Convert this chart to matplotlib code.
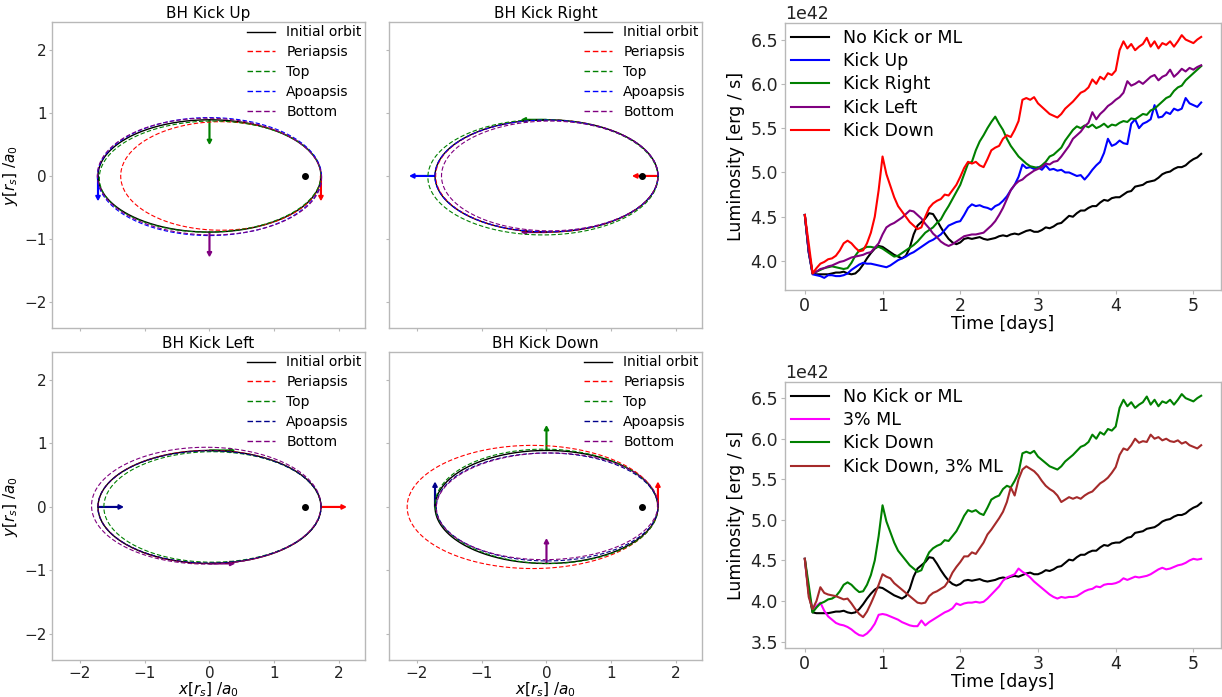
import numpy as np
import matplotlib
matplotlib.use("Agg")
import matplotlib.pyplot as plt

# ---------------- data ----------------
time_days = [round(0.05 * i, 2) for i in range(103)]  # 0.00 .. 5.10

lum_no_kick = [
 4.52, 4.10, 3.86, 3.85, 3.85, 3.85, 3.85, 3.86, 3.87, 3.87,
 3.88, 3.86, 3.85, 3.86, 3.90, 3.96, 4.03, 4.09, 4.14, 4.17,
 4.16, 4.13, 4.10, 4.07, 4.05, 4.03, 4.06, 4.15, 4.30, 4.40,
 4.44, 4.48, 4.54, 4.53, 4.46, 4.38, 4.31, 4.25, 4.21, 4.19,
 4.21, 4.25, 4.26, 4.25, 4.26, 4.27, 4.25, 4.24, 4.25, 4.26,
 4.28, 4.29, 4.28, 4.30, 4.31, 4.30, 4.32, 4.34, 4.35, 4.33,
 4.33, 4.35, 4.38, 4.37, 4.39, 4.42, 4.43, 4.47, 4.51, 4.50,
 4.54, 4.57, 4.57, 4.60, 4.62, 4.62, 4.66, 4.69, 4.68, 4.71,
 4.72, 4.72, 4.75, 4.78, 4.79, 4.84, 4.85, 4.86, 4.89, 4.90,
 4.91, 4.94, 4.98, 5.00, 5.01, 5.04, 5.06, 5.06, 5.08, 5.12,
 5.15, 5.17, 5.21]

lum_kick_up = [
 4.52, 4.10, 3.85, 3.84, 3.83, 3.81, 3.84, 3.84, 3.83, 3.83,
 3.84, 3.86, 3.90, 3.93, 3.96, 3.98, 3.97, 3.97, 3.96, 3.95,
 3.94, 3.93, 3.95, 3.98, 4.01, 4.03, 4.05, 4.08, 4.10, 4.13,
 4.16, 4.19, 4.22, 4.24, 4.27, 4.30, 4.35, 4.40, 4.42, 4.44,
 4.45, 4.52, 4.60, 4.64, 4.62, 4.63, 4.61, 4.60, 4.58, 4.62,
 4.64, 4.68, 4.73, 4.80, 4.86, 4.95, 5.09, 5.05, 5.06, 5.04,
 5.06, 5.03, 5.08, 5.03, 5.04, 5.02, 5.03, 5.00, 5.00, 4.98,
 4.96, 4.97, 4.92, 4.97, 5.03, 5.08, 5.12, 5.22, 5.38, 5.30,
 5.32, 5.36, 5.33, 5.32, 5.55, 5.60, 5.50, 5.55, 5.57, 5.60,
 5.76, 5.62, 5.63, 5.68, 5.66, 5.72, 5.70, 5.72, 5.84, 5.78,
 5.76, 5.74, 5.79]

lum_kick_right = [
 4.52, 4.12, 3.86, 3.88, 3.90, 3.92, 3.93, 3.94, 3.93, 3.92,
 3.91, 3.92, 3.98, 4.06, 4.12, 4.14, 4.16, 4.16, 4.15, 4.16,
 4.14, 4.11, 4.08, 4.05, 4.06, 4.09, 4.12, 4.15, 4.18, 4.22,
 4.27, 4.32, 4.35, 4.38, 4.43, 4.47, 4.55, 4.62, 4.70, 4.78,
 4.86, 4.98, 5.10, 5.12, 5.25, 5.35, 5.42, 5.50, 5.57, 5.63,
 5.55, 5.48, 5.38, 5.30, 5.24, 5.18, 5.14, 5.10, 5.07, 5.06,
 5.05, 5.08, 5.12, 5.18, 5.20, 5.24, 5.28, 5.36, 5.42, 5.48,
 5.52, 5.50, 5.53, 5.51, 5.54, 5.50, 5.52, 5.55, 5.51, 5.54,
 5.53, 5.56, 5.58, 5.57, 5.61, 5.60, 5.63, 5.66, 5.65, 5.70,
 5.72, 5.76, 5.80, 5.84, 5.86, 5.92, 5.96, 5.98, 6.04, 6.08,
 6.12, 6.16, 6.20]

lum_kick_left = [
 4.52, 4.12, 3.86, 3.88, 3.91, 3.92, 3.94, 3.95, 3.97, 3.99,
 4.00, 4.02, 4.04, 4.05, 4.06, 4.07, 4.09, 4.10, 4.15, 4.20,
 4.30, 4.38, 4.41, 4.43, 4.46, 4.49, 4.53, 4.57, 4.56, 4.52,
 4.48, 4.42, 4.37, 4.31, 4.27, 4.22, 4.19, 4.17, 4.19, 4.22,
 4.25, 4.28, 4.29, 4.30, 4.30, 4.31, 4.32, 4.36, 4.40, 4.45,
 4.52, 4.60, 4.70, 4.80, 4.86, 4.90, 4.92, 4.96, 4.99, 5.02,
 5.04, 5.06, 5.10, 5.09, 5.12, 5.13, 5.18, 5.24, 5.30, 5.38,
 5.42, 5.46, 5.52, 5.56, 5.68, 5.60, 5.66, 5.70, 5.75, 5.78,
 5.82, 5.85, 5.90, 6.03, 5.98, 6.00, 6.03, 6.00, 6.04, 6.08,
 6.10, 6.04, 6.08, 6.10, 6.16, 6.08, 6.12, 6.17, 6.14, 6.18,
 6.16, 6.19, 6.21]

lum_kick_down = [
 4.52, 4.20, 3.86, 3.92, 3.97, 3.99, 4.02, 4.03, 4.06, 4.12,
 4.20, 4.23, 4.20, 4.15, 4.11, 4.12, 4.20, 4.32, 4.50, 4.80,
 5.18, 4.98, 4.85, 4.72, 4.62, 4.56, 4.50, 4.44, 4.40, 4.36,
 4.38, 4.50, 4.60, 4.65, 4.68, 4.70, 4.75, 4.74, 4.80, 4.86,
 4.95, 5.05, 5.12, 5.10, 5.12, 5.08, 5.06, 5.15, 5.25, 5.28,
 5.30, 5.38, 5.42, 5.40, 5.48, 5.58, 5.82, 5.84, 5.82, 5.85,
 5.78, 5.74, 5.70, 5.66, 5.64, 5.62, 5.66, 5.72, 5.76, 5.80,
 5.85, 5.90, 5.92, 5.96, 6.05, 6.00, 6.08, 6.05, 6.12, 6.10,
 6.15, 6.38, 6.48, 6.40, 6.45, 6.38, 6.42, 6.45, 6.52, 6.42,
 6.48, 6.40, 6.46, 6.44, 6.48, 6.42, 6.48, 6.55, 6.50, 6.48,
 6.46, 6.50, 6.53]

lum_ml3 = [
 4.52, 4.10, 3.90, 3.94, 3.98, 3.88, 3.81, 3.77, 3.73, 3.71,
 3.70, 3.68, 3.65, 3.61, 3.58, 3.57, 3.60, 3.65, 3.72, 3.83,
 3.84, 3.83, 3.81, 3.79, 3.77, 3.74, 3.72, 3.70, 3.69, 3.69,
 3.76, 3.70, 3.74, 3.77, 3.80, 3.83, 3.86, 3.88, 3.91, 3.97,
 3.95, 3.97, 3.98, 3.98, 3.99, 3.98, 3.99, 4.03, 4.08, 4.13,
 4.18, 4.25, 4.29, 4.31, 4.33, 4.40, 4.36, 4.33, 4.29, 4.24,
 4.20, 4.16, 4.12, 4.08, 4.05, 4.03, 4.05, 4.04, 4.05, 4.05,
 4.06, 4.09, 4.12, 4.14, 4.15, 4.18, 4.17, 4.20, 4.21, 4.21,
 4.22, 4.24, 4.28, 4.26, 4.28, 4.30, 4.29, 4.30, 4.31, 4.33,
 4.36, 4.39, 4.41, 4.39, 4.40, 4.42, 4.44, 4.45, 4.47, 4.50,
 4.52, 4.51, 4.52]

lum_kick_down_ml3 = [
 4.52, 4.05, 3.90, 4.00, 4.17, 4.10, 4.08, 4.07, 4.06, 4.04,
 4.02, 4.03, 3.97, 3.90, 3.84, 3.80, 3.87, 3.97, 4.08, 4.20,
 4.33, 4.30, 4.28, 4.22, 4.18, 4.14, 4.10, 4.06, 4.02, 3.98,
 3.97, 3.98, 4.06, 4.10, 4.12, 4.15, 4.18, 4.25, 4.35, 4.42,
 4.48, 4.55, 4.55, 4.60, 4.58, 4.65, 4.72, 4.82, 4.88, 4.95,
 5.02, 5.10, 5.22, 5.40, 5.30, 5.50, 5.62, 5.66, 5.63, 5.60,
 5.55, 5.48, 5.42, 5.38, 5.35, 5.30, 5.22, 5.25, 5.28, 5.26,
 5.28, 5.26, 5.30, 5.33, 5.35, 5.40, 5.45, 5.48, 5.52, 5.58,
 5.65, 5.80, 5.88, 5.86, 5.92, 6.00, 5.95, 5.97, 5.96, 6.05,
 6.00, 6.02, 5.98, 6.00, 5.97, 5.96, 5.98, 5.94, 5.96, 5.92,
 5.90, 5.88, 5.92]

lum_scale = 1e42

# orbit data (in units of a0): initial ellipse and BH position
init_orbit = (0.0, 0.0, 1.72, 0.89, 0.0)   # xc, yc, a, b, tilt(deg)
bh_pos = (1.476, 0.0)

panel_titles = ["BH Kick Up", "BH Kick Right", "BH Kick Left", "BH Kick Down"]
kick_labels = ["Periapsis", "Top", "Apoapsis", "Bottom"]
kick_points = [(1.72, 0.0), (0.0, 0.89), (-1.72, 0.0), (0.0, -0.89)]
kick_dirs = [(0.0, -0.38), (-0.38, 0.0), (0.38, 0.0), (0.0, 0.38)]

# per panel, per kick location: xc, yc, a, b, tilt
kicked_orbits = [
    [(0.175, 0.0, 1.545, 0.86, 0.0), (0.01, -0.01, 1.71, 0.88, 1.0),
     (0.0, -0.01, 1.73, 0.935, 0.0), (0.0, -0.01, 1.73, 0.925, -1.0)],
    [(0.005, 0.0, 1.715, 0.89, 0.0), (-0.055, -0.02, 1.775, 0.915, 0.0),
     (0.0, 0.0, 1.722, 0.886, 0.0), (0.05, 0.0, 1.67, 0.87, 0.0)],
    [(0.0, 0.0, 1.72, 0.89, 0.0), (0.045, 0.0, 1.675, 0.87, 0.0),
     (0.0, 0.0, 1.722, 0.884, 0.0), (-0.05, 0.02, 1.77, 0.92, 0.0)],
    [(-0.215, 0.0, 1.935, 0.97, 0.0), (0.0, 0.01, 1.72, 0.9, -1.0),
     (0.01, 0.0, 1.71, 0.85, 0.0), (0.01, 0.01, 1.71, 0.84, 1.0)],
]
kick_colors = [
    ["red", "green", "blue", "purple"],
    ["red", "green", "blue", "purple"],
    ["red", "green", "darkblue", "purple"],
    ["red", "green", "darkblue", "purple"],
]

# ---------------- figure ----------------
plt.rcParams['font.family'] = ['DejaVu Sans']
fig = plt.figure(figsize=(12.22, 6.97), dpi=100)
W, H = 1222.0, 697.0
SPINE = "#b8b8b8"


def add_ax(x0, y0, x1, y1):
    return fig.add_axes([x0 / W, 1 - y1 / H, (x1 - x0) / W, (y1 - y0) / H])


def style_spines(ax):
    for s in ax.spines.values():
        s.set_color(SPINE)
        s.set_linewidth(1.0)


def ellipse_xy(p):
    xc, yc, a, b, tilt = p
    th = np.linspace(0, 2 * np.pi, 400)
    t = np.deg2rad(tilt)
    x = a * np.cos(th)
    y = b * np.sin(th)
    return xc + x * np.cos(t) - y * np.sin(t), yc + x * np.sin(t) + y * np.cos(t)


orbit_boxes = [(52, 22, 365, 328), (389, 22, 702, 328),
               (52, 352, 365, 660), (389, 352, 702, 660)]

for k, box in enumerate(orbit_boxes):
    ax = add_ax(*box)
    style_spines(ax)
    x, y = ellipse_xy(init_orbit)
    ax.plot(x, y, color="black", lw=1.0, label="Initial orbit")
    for j in range(4):
        x, y = ellipse_xy(kicked_orbits[k][j])
        ax.plot(x, y, color=kick_colors[k][j], lw=0.8, ls=(0, (4, 2)),
                label=kick_labels[j])
    for j in range(4):
        px, py = kick_points[j]
        dx, dy = kick_dirs[k]
        ax.arrow(px, py, dx, dy, color=kick_colors[k][j], width=0.012,
                 head_width=0.07, head_length=0.07, length_includes_head=True)
    ax.plot([bh_pos[0]], [bh_pos[1]], "o", color="black", ms=4)
    ax.set_xlim(-2.43, 2.40)
    ax.set_ylim(-2.41, 2.44)
    ax.set_xticks([-2, -1, 0, 1, 2])
    ax.set_yticks([-2, -1, 0, 1, 2])
    ax.tick_params(labelsize=11, color=SPINE, length=2.5, pad=1.5,
                   labelcolor="#222222")
    if k in (0, 1):
        ax.tick_params(labelbottom=False)
    else:
        ax.set_xlabel(r"$x[r_s]$ /$a_0$", fontsize=11, labelpad=0)
    if k in (1, 3):
        ax.tick_params(labelleft=False)
    else:
        ax.set_ylabel(r"$y[r_s]$ /$a_0$", fontsize=11, labelpad=3)
    ax.set_title(panel_titles[k], fontsize=11, pad=3)
    leg = ax.legend(loc="upper right", frameon=False, fontsize=10, labelspacing=0.42,
                    borderaxespad=0.1, handlelength=2.0, borderpad=0.15)
    for h in leg.get_lines()[1:]:
        h.set_linewidth(1.0)

# luminosity panels
t = np.array(time_days)

ax1 = add_ax(785, 23, 1221, 290)
style_spines(ax1)
ax1.plot(t, np.array(lum_no_kick) * lum_scale, color="black", lw=1.5, label="No Kick or ML")
ax1.plot(t, np.array(lum_kick_up) * lum_scale, color="blue", lw=1.5, label="Kick Up")
ax1.plot(t, np.array(lum_kick_right) * lum_scale, color="green", lw=1.5, label="Kick Right")
ax1.plot(t, np.array(lum_kick_left) * lum_scale, color="purple", lw=1.5, label="Kick Left")
ax1.plot(t, np.array(lum_kick_down) * lum_scale, color="red", lw=1.5, label="Kick Down")

ax2 = add_ax(785, 382, 1221, 648)
style_spines(ax2)
ax2.plot(t, np.array(lum_no_kick) * lum_scale, color="black", lw=1.5, label="No Kick or ML")
ax2.plot(t, np.array(lum_ml3) * lum_scale, color="magenta", lw=1.5, label="3% ML")
ax2.plot(t, np.array(lum_kick_down) * lum_scale, color="green", lw=1.5, label="Kick Down")
ax2.plot(t, np.array(lum_kick_down_ml3) * lum_scale, color="brown", lw=1.5, label="Kick Down, 3% ML")

for ax in (ax1, ax2):
    ax.set_xticks([0, 1, 2, 3, 4, 5])
    ax.tick_params(labelsize=12.5, color=SPINE, length=3, pad=2, labelcolor="#222222")
    ax.yaxis.get_offset_text().set_fontsize(12.5)
    ax.set_xlabel("Time [days]", fontsize=12.5, labelpad=0)
    ax.set_ylabel("Luminosity [erg / s]", fontsize=12.5, labelpad=4)
    ax.legend(loc="upper left", frameon=False, fontsize=12.5, labelspacing=0.3,
              borderaxespad=0.2, handlelength=2.2, borderpad=0.15)

fig.savefig("out.png", dpi=100)
